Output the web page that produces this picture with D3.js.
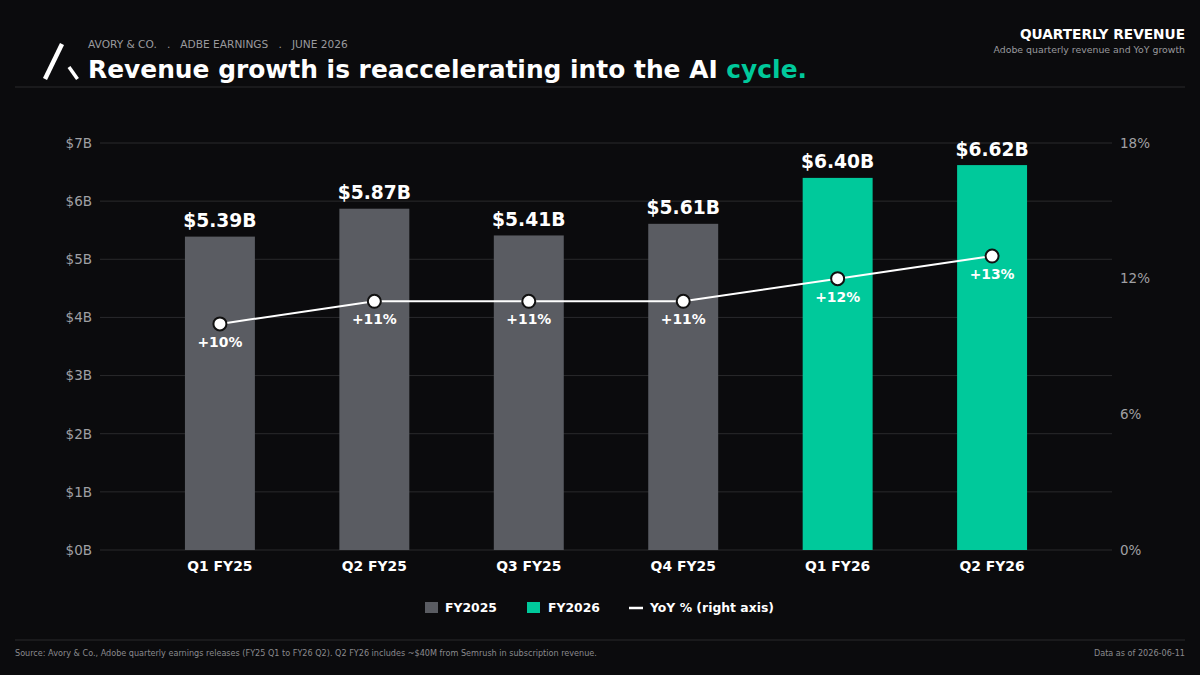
<!DOCTYPE html>
<html><head><meta charset="utf-8">
<script src="https://cdn.jsdelivr.net/npm/d3@7/dist/d3.min.js"></script>
<style>
html,body{margin:0;padding:0;background:#0b0b0d;}
svg{display:block;font-family:"DejaVu Sans",sans-serif;}
</style></head><body>
<svg id="c" width="1200" height="675"></svg>
<script>
const categories = ["Q1 FY25","Q2 FY25","Q3 FY25","Q4 FY25","Q1 FY26","Q2 FY26"];
const fiscalYear = ["FY2025","FY2025","FY2025","FY2025","FY2026","FY2026"];
const revenue = [5.39, 5.87, 5.41, 5.61, 6.40, 6.62];
const revenueLabels = ["$5.39B","$5.87B","$5.41B","$5.61B","$6.40B","$6.62B"];
const yoy = [10, 11, 11, 11, 12, 13];
const leftTicks = [0,1,2,3,4,5,6,7];
const rightTicks = [0,6,12,18];

const BG="#0b0b0d", GRAY="#5a5c62", TEAL="#00c99b", GRID="#2a2a2c";
const svg = d3.select("#c");
svg.append("rect").attr("width",1200).attr("height",675).attr("fill",BG);

// header
const logo = svg.append("g");
logo.append("line").attr("x1",45).attr("y1",79).attr("x2",62).attr("y2",44).attr("stroke","#fff").attr("stroke-width",4.5);
logo.append("line").attr("x1",69).attr("y1",67).attr("x2",77.5).attr("y2",79).attr("stroke","#fff").attr("stroke-width",3.5);
svg.append("text").attr("x",88).attr("y",48).attr("fill","#9a9a9e").attr("font-size",10.6)
  .attr("xml:space","preserve").text("AVORY & CO.   .   ADBE EARNINGS   .   JUNE 2026");
const t = svg.append("text").attr("x",88).attr("y",78).attr("fill","#fff").attr("font-size",24.9).attr("font-weight","bold");
t.append("tspan").text("Revenue growth is reaccelerating into the AI ");
t.append("tspan").attr("fill",TEAL).text("cycle.");
svg.append("text").attr("x",1185).attr("y",39).attr("text-anchor","end").attr("fill","#fff").attr("font-size",13.7).attr("font-weight","bold").text("QUARTERLY REVENUE");
svg.append("text").attr("x",1185).attr("y",53).attr("text-anchor","end").attr("fill","#9a9a9e").attr("font-size",9.35).text("Adobe quarterly revenue and YoY growth");
svg.append("line").attr("x1",15).attr("x2",1185).attr("y1",87).attr("y2",87).attr("stroke",GRID);

// scales
const x = d3.scaleBand().domain(categories).range([100,1112]).paddingInner(0.547).paddingOuter(0.55);
const y = d3.scaleLinear().domain([0,7]).range([550,143]);
const y2 = d3.scaleLinear().domain([0,18]).range([550,143]);

// grid
svg.append("g").selectAll("line").data(leftTicks).join("line")
  .attr("x1",100).attr("x2",1112).attr("y1",d=>y(d)).attr("y2",d=>y(d)).attr("stroke",GRID).attr("stroke-width",1);

// left axis
const ax = svg.append("g").attr("transform","translate(100,0)")
  .call(d3.axisLeft(y).tickValues(leftTicks).tickFormat(d=>"$"+d+"B").tickSize(0).tickPadding(8));
ax.select(".domain").remove();
ax.selectAll("text").attr("fill","#a0a0a4").attr("font-size",13.5).attr("font-family","DejaVu Sans");
// right axis
const ar = svg.append("g").attr("transform","translate(1112,0)")
  .call(d3.axisRight(y2).tickValues(rightTicks).tickFormat(d=>d+"%").tickSize(0).tickPadding(8));
ar.select(".domain").remove();
ar.selectAll("text").attr("fill","#a0a0a4").attr("font-size",13.5).attr("font-family","DejaVu Sans");

// bars
const idx = d3.range(categories.length);
svg.append("g").selectAll("rect").data(idx).join("rect")
  .attr("x",i=>x(categories[i])).attr("width",x.bandwidth())
  .attr("y",i=>y(revenue[i])).attr("height",i=>y(0)-y(revenue[i]))
  .attr("fill",i=>fiscalYear[i]==="FY2026"?TEAL:GRAY);
svg.append("g").selectAll("text").data(idx).join("text")
  .attr("x",i=>x(categories[i])+x.bandwidth()/2).attr("y",i=>y(revenue[i])-9.5)
  .attr("text-anchor","middle").attr("fill","#fff").attr("font-size",18.7).attr("font-weight","bold")
  .text(i=>revenueLabels[i]);

// x labels
svg.append("g").selectAll("text").data(categories).join("text")
  .attr("x",d=>x(d)+x.bandwidth()/2).attr("y",571).attr("text-anchor","middle")
  .attr("fill","#fff").attr("font-size",13.9).attr("font-weight","bold").text(d=>d);

// line
const cx = i=>x(categories[i])+x.bandwidth()/2;
svg.append("path").datum(idx).attr("fill","none").attr("stroke","#fff").attr("stroke-width",2)
  .attr("d",d3.line().x(cx).y(i=>y2(yoy[i])));
svg.append("g").selectAll("circle").data(idx).join("circle")
  .attr("cx",cx).attr("cy",i=>y2(yoy[i])).attr("r",6.5)
  .attr("fill","#fff").attr("stroke","#111").attr("stroke-width",2);
svg.append("g").selectAll("text").data(idx).join("text")
  .attr("x",cx).attr("y",i=>y2(yoy[i])+23).attr("text-anchor","middle")
  .attr("fill","#fff").attr("font-size",13.9).attr("font-weight","bold").text(i=>"+"+yoy[i]+"%");

// legend
const lg = svg.append("g").attr("font-size",12.4).attr("font-weight","bold").attr("fill","#fff");
lg.append("rect").attr("x",425).attr("y",602).attr("width",13).attr("height",11).attr("fill",GRAY);
lg.append("text").attr("x",445).attr("y",612).attr("fill","#fff").text("FY2025");
lg.append("rect").attr("x",527).attr("y",602).attr("width",13).attr("height",11).attr("fill",TEAL);
lg.append("text").attr("x",548).attr("y",612).attr("fill","#fff").text("FY2026");
lg.append("line").attr("x1",629).attr("x2",643).attr("y1",608).attr("y2",608).attr("stroke","#fff").attr("stroke-width",2.5);
lg.append("text").attr("x",650).attr("y",612).attr("fill","#fff").text("YoY % (right axis)");

// footer
svg.append("line").attr("x1",15).attr("x2",1185).attr("y1",640).attr("y2",640).attr("stroke",GRID);
svg.append("text").attr("x",15).attr("y",656).attr("fill","#8a8a8e").attr("font-size",8.1)
  .text("Source: Avory & Co., Adobe quarterly earnings releases (FY25 Q1 to FY26 Q2). Q2 FY26 includes ~$40M from Semrush in subscription revenue.");
svg.append("text").attr("x",1185).attr("y",656).attr("text-anchor","end").attr("fill","#8a8a8e").attr("font-size",8.1).text("Data as of 2026-06-11");
</script></body></html>
